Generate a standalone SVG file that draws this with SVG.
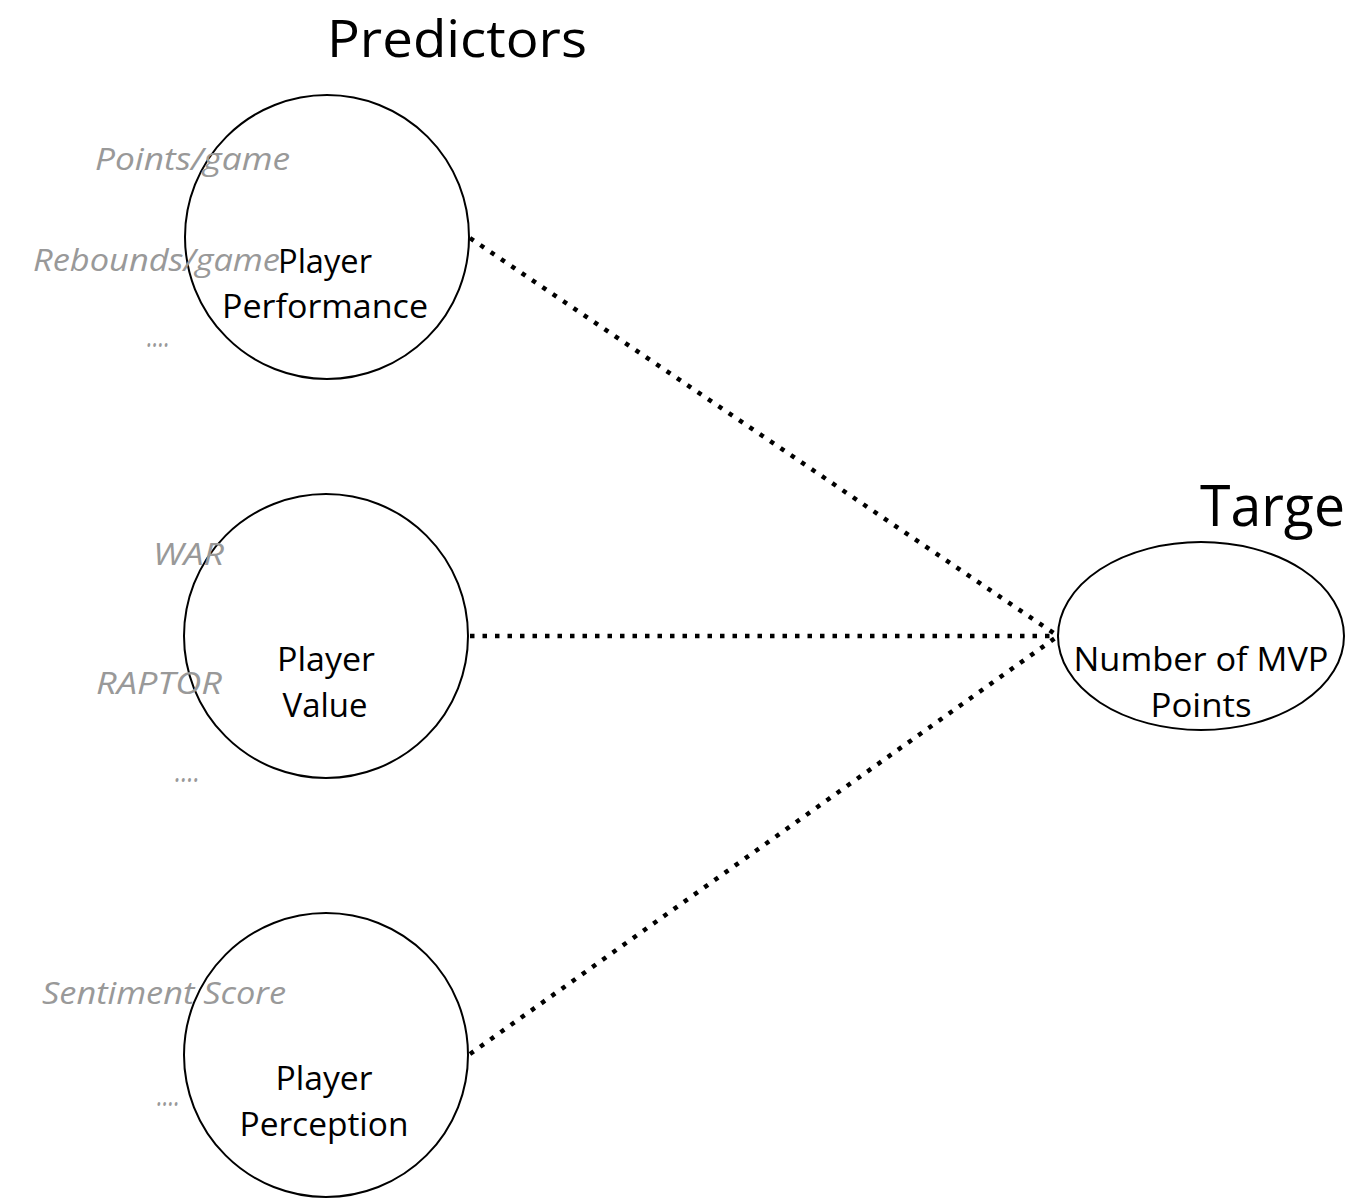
<svg xmlns="http://www.w3.org/2000/svg" width="1350" height="1202" viewBox="0 0 1350 1202">
<style>
.node{fill:#fff;stroke:#000;stroke-width:2}
.lbl{font-family:"Open Sans","Noto Sans",sans-serif;font-size:33px;fill:#000;text-anchor:middle}
.feat{font-family:"Open Sans","Noto Sans",sans-serif;font-size:31px;font-style:italic;fill:#999}
.title{font-family:"Open Sans","Noto Sans",sans-serif;fill:#000}
.conn{stroke:#000;stroke-width:4.5;stroke-dasharray:4.5 8;fill:none}
</style>
<rect width="1350" height="1202" fill="#fff"/>
<text class="title" x="327" y="57" font-size="52" textLength="260" lengthAdjust="spacingAndGlyphs">Predictors</text>
<text class="title" x="1200" y="526" font-size="56" textLength="145" lengthAdjust="spacingAndGlyphs">Targe</text>
<g id="connectors">
<line class="conn" x1="470" y1="238" x2="1058" y2="636"/>
<line class="conn" x1="470" y1="636" x2="1058" y2="636"/>
<line class="conn" x1="470" y1="1054" x2="1058" y2="636"/>
</g>
<g id="player-performance">
<circle class="node" cx="327" cy="237" r="142"/>
<text class="feat" x="95" y="170" textLength="195" lengthAdjust="spacingAndGlyphs">Points/game</text>
<text class="feat" x="33" y="271" textLength="247" lengthAdjust="spacingAndGlyphs">Rebounds/game</text>
<text class="feat" x="147" y="347" textLength="23" lengthAdjust="spacingAndGlyphs">....</text>
<text class="lbl" x="325" y="273" textLength="94" lengthAdjust="spacingAndGlyphs">Player</text>
<text class="lbl" x="325" y="318" textLength="206" lengthAdjust="spacingAndGlyphs">Performance</text>
</g>
<g id="player-value">
<circle class="node" cx="326" cy="636" r="142"/>
<text class="feat" x="153" y="565" textLength="71" lengthAdjust="spacingAndGlyphs">WAR</text>
<text class="feat" x="96" y="694" textLength="126" lengthAdjust="spacingAndGlyphs">RAPTOR</text>
<text class="feat" x="175" y="782" textLength="25" lengthAdjust="spacingAndGlyphs">....</text>
<text class="lbl" x="326" y="671" textLength="98" lengthAdjust="spacingAndGlyphs">Player</text>
<text class="lbl" x="325" y="717" textLength="85" lengthAdjust="spacingAndGlyphs">Value</text>
</g>
<g id="player-perception">
<circle class="node" cx="326" cy="1055" r="142"/>
<text class="feat" x="42" y="1004" textLength="244" lengthAdjust="spacingAndGlyphs">Sentiment Score</text>
<text class="feat" x="157" y="1106" textLength="23" lengthAdjust="spacingAndGlyphs">....</text>
<text class="lbl" x="324" y="1090" textLength="97" lengthAdjust="spacingAndGlyphs">Player</text>
<text class="lbl" x="324" y="1136" textLength="169" lengthAdjust="spacingAndGlyphs">Perception</text>
</g>
<g id="mvp-points">
<ellipse class="node" cx="1201" cy="636" rx="143" ry="94"/>
<text class="lbl" x="1201" y="671" textLength="255" lengthAdjust="spacingAndGlyphs">Number of MVP</text>
<text class="lbl" x="1201" y="717" textLength="101" lengthAdjust="spacingAndGlyphs">Points</text>
</g>
</svg>
